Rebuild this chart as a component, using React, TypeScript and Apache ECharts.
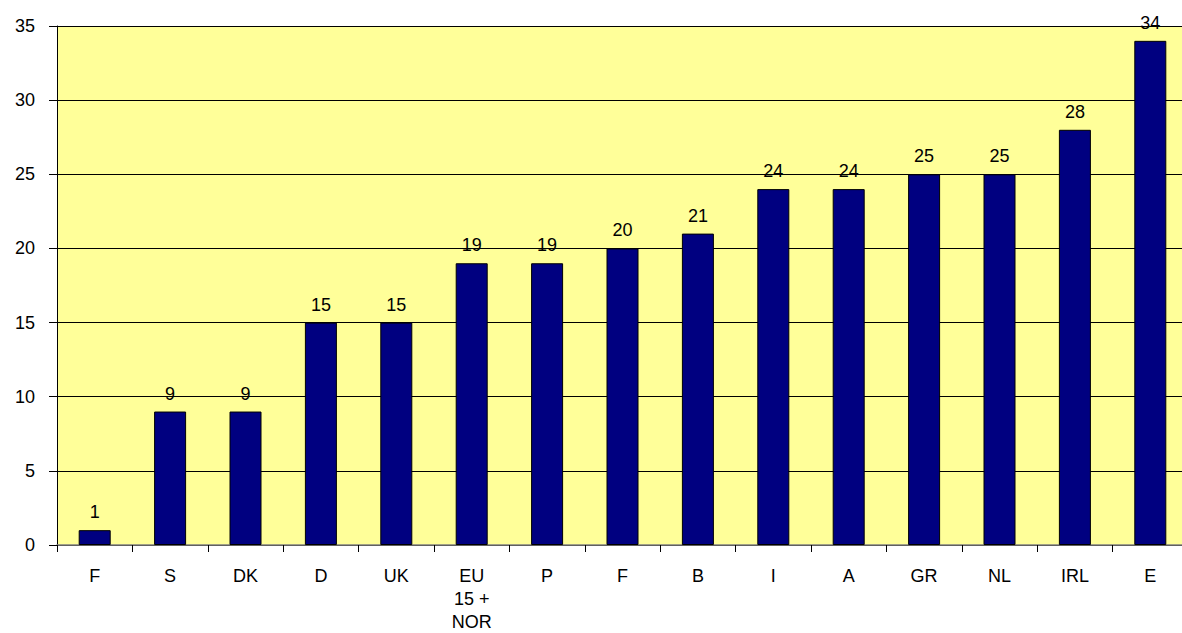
import React, { useEffect, useRef } from "react";
import * as echarts from "echarts";

const categories = ["F", "S", "DK", "D", "UK", "EU\n15 +\nNOR", "P", "F", "B", "I", "A", "GR", "NL", "IRL", "E"];
const values = [1, 9, 9, 15, 15, 19, 19, 20, 21, 24, 24, 25, 25, 28, 34];
const yMin = 0;
const yMax = 35;
const yStep = 5;

const FONT = "Arial, 'Liberation Sans', sans-serif";

export default function App() {
  const ref = useRef<HTMLDivElement>(null);
  useEffect(() => {
    if (!ref.current) return;
    const chart = echarts.init(ref.current, undefined, { renderer: "svg" });
    chart.setOption({
      animation: false,
      backgroundColor: "#ffffff",
      grid: {
        left: 57,
        right: 2,
        top: 26,
        bottom: 88,
        show: true,
        backgroundColor: "#FFFF99",
        borderWidth: 0,
      },
      xAxis: {
        type: "category",
        data: categories,
        boundaryGap: true,
        axisLine: { show: true, lineStyle: { color: "#808080", width: 1.5 } },
        axisTick: { show: true, length: 7, interval: 0, lineStyle: { color: "#000000" } },
        axisLabel: {
          interval: 0,
          margin: 19,
          fontSize: 18,
          lineHeight: 23,
          color: "#000000",
          fontFamily: FONT,
        },
        splitLine: { show: false },
      },
      yAxis: {
        type: "value",
        min: yMin,
        max: yMax,
        interval: yStep,
        axisLine: { show: true, lineStyle: { color: "#000000", width: 1 } },
        axisTick: { show: true, length: 8, lineStyle: { color: "#000000" } },
        axisLabel: {
          margin: 22,
          fontSize: 18,
          color: "#000000",
          fontFamily: FONT,
        },
        splitLine: { show: true, lineStyle: { color: "#000000", width: 1 } },
      },
      series: [
        {
          type: "bar",
          data: values,
          barWidth: 32,
          itemStyle: { color: "#000080", borderColor: "#000000", borderWidth: 1 },
          label: {
            show: true,
            position: "top",
            distance: 9,
            fontSize: 18,
            color: "#000000",
            fontFamily: FONT,
          },
        },
      ],
    });
    return () => chart.dispose();
  }, []);
  return (
    <div style={{ position: "fixed", left: 0, top: 0, width: 1182, height: 633, overflow: "hidden", background: "#fff" }}>
      <div ref={ref} style={{ width: 1190, height: 633 }} />
    </div>
  );
}
